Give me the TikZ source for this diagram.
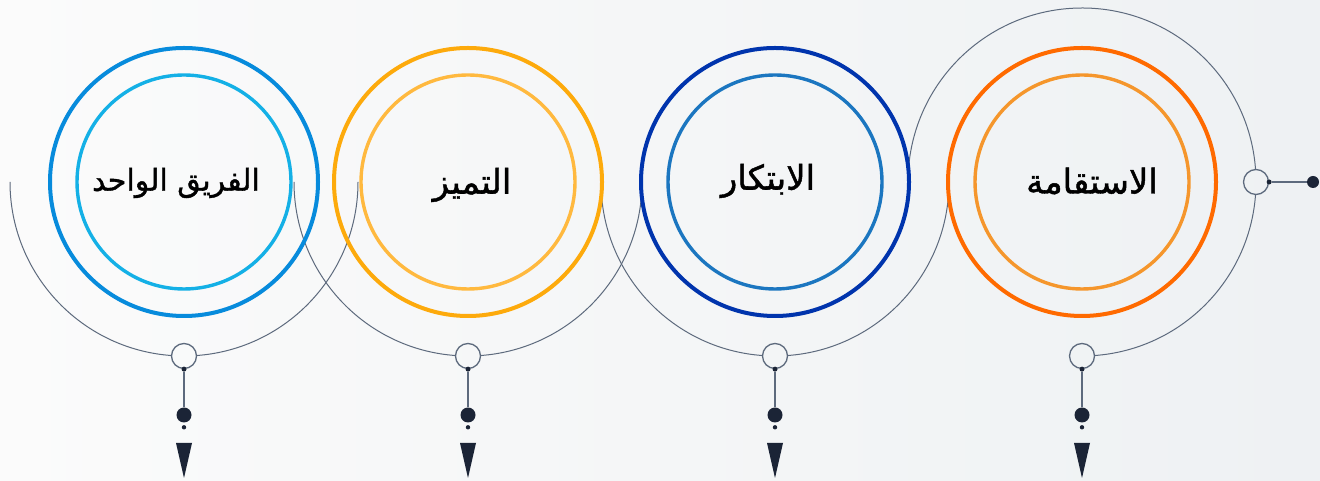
\documentclass[tikz,border=0pt]{standalone}
\usepackage{fontspec}
\newfontfamily\arabicfont[Script=Arabic,FakeBold=1.3]{DejaVu Sans}
\TeXXeTstate=1
\usetikzlibrary{calc}
\definecolor{bgleft}{HTML}{FBFBFB}
\definecolor{bgright}{HTML}{EEF1F3}
\definecolor{cAout}{HTML}{078BDC}
\definecolor{cAin}{HTML}{14B0E6}
\definecolor{cBout}{HTML}{FDAA0C}
\definecolor{cBin}{HTML}{FFB93F}
\definecolor{cCout}{HTML}{0034AD}
\definecolor{cCin}{HTML}{1B76C0}
\definecolor{cDout}{HTML}{FF6A00}
\definecolor{cDin}{HTML}{F5962C}
\definecolor{arcgrey}{HTML}{5D6A7D}
\definecolor{navy}{HTML}{1B2436}
\begin{document}
\begin{tikzpicture}[x=1pt,y=1pt,
  outerring/.style={circle, draw, line width=4pt, minimum size=268pt, inner sep=0pt},
  innerring/.style={circle, draw, line width=3.4pt, minimum size=214pt, inner sep=0pt},
  greyarc/.style={draw=arcgrey, line width=1pt},
  hub/.style={circle, draw=arcgrey, line width=1.3pt, minimum size=25pt, inner sep=0pt},
  tinydot/.style={circle, fill=navy, minimum size=5pt, inner sep=0pt},
  bigdot/.style={circle, fill=navy, minimum size=15pt, inner sep=0pt},
  middot/.style={circle, fill=navy, minimum size=12pt, inner sep=0pt},
  pdot/.style={circle, fill=navy, minimum size=4.4pt, inner sep=0pt},
  stem/.style={draw=arcgrey, line width=1.2pt},
  label/.style={font=\arabicfont\fontsize{34}{40}\selectfont, text=black},
  labelwide/.style={font=\arabicfont\fontsize{30}{36}\selectfont, text=black}
]
\useasboundingbox (0,0) rectangle (1320,481);
\shade[left color=bgleft, right color=bgright] (0,0) rectangle (1320,481);

% centres
\coordinate (cA) at (184,299);
\coordinate (cB) at (468,299);
\coordinate (cC) at (775,299);
\coordinate (cD) at (1082,299);

% grey arcs
\foreach \c in {cA,cB,cC}{
  \draw[greyarc] ($(\c)+(180:174)$) arc[start angle=180, end angle=265.88, radius=174];
  \draw[greyarc] ($(\c)+(274.12:174)$) arc[start angle=274.12, end angle=360, radius=174];
}
\draw[greyarc] ($(cD)+(274.12:174)$) arc[start angle=274.12, end angle=355.88, radius=174];
\draw[greyarc] ($(cD)+(4.12:174)$) arc[start angle=4.12, end angle=180, radius=174];

% rings
\node[outerring, draw=cAout] (oA) at (cA) {};
\node[innerring, draw=cAin] (iA) at (cA) {};
\node[outerring, draw=cBout] (oB) at (cB) {};
\node[innerring, draw=cBin] (iB) at (cB) {};
\node[outerring, draw=cCout] (oC) at (cC) {};
\node[innerring, draw=cCin] (iC) at (cC) {};
\node[outerring, draw=cDout] (oD) at (cD) {};
\node[innerring, draw=cDin] (iD) at (cD) {};

% labels
\node[labelwide] (tA) at ($(cA)+(-8,-1)$) {\beginR الفريق الواحد\endR};
\node[label] (tB) at ($(cB)+(4,-3)$) {\beginR التميز\endR};
\node[label] (tC) at ($(cC)+(-7,1)$) {\beginR الابتكار\endR};
\node[label] (tD) at ($(cD)+(10,1)$) {\beginR الاستقامة\endR};

% right hub
\node[hub] (hR) at (1256,299) {};
\node[tinydot] (hRd) at (hR.east) {};
\node[middot] (hRe) at (1313,299) {};
\draw[stem] (hRd) -- (hRe);

% bottom hubs and stems
\foreach \n/\x in {A/184,B/468,C/775,D/1082}{
  \node[hub] (h\n) at (\x,125) {};
  \node[tinydot] (hd\n) at (h\n.south) {};
  \node[bigdot] (b\n) at (\x,66) {};
  \node[pdot] (p\n) at (\x,53.7) {};
  \draw[stem] (hd\n) -- (b\n);
  \fill[navy] (\x-8,38) -- (\x+8,38) -- (\x,3) -- cycle;
}
\end{tikzpicture}
\end{document}
